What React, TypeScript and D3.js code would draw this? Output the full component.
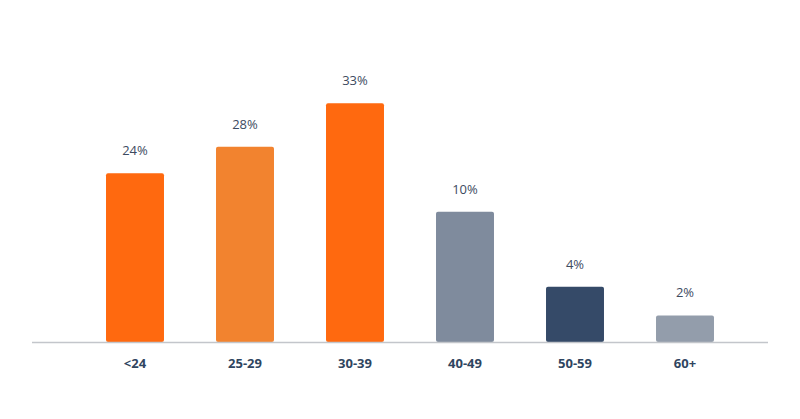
import React from "react";
import * as d3 from "d3";

const categories = ["<24", "25-29", "30-39", "40-49", "50-59", "60+"];
const barValues = [24.1, 27.9, 34.1, 18.6, 7.9, 3.8];
const valueLabels = ["24%", "28%", "33%", "10%", "4%", "2%"];
const barColors = ["#ff690f", "#f2832f", "#ff690f", "#7f8b9d", "#354a68", "#939dab"];

const W = 800;
const H = 419;
const baseline = 342;

export default function App() {
  const x = d3
    .scaleBand<string>()
    .domain(categories)
    .range([80, 740])
    .paddingInner(0.473)
    .paddingOuter(0.2365);
  const y = d3.scaleLinear().domain([0, 40]).range([baseline, 62]);
  const font = "'Open Sans', 'Noto Sans', sans-serif";

  return (
    <svg
      width={W}
      height={H}
      style={{ position: "absolute", left: 0, top: 0, background: "#fff" }}
    >
      {categories.map((c, i) => (
        <g key={c}>
          <rect
            x={x(c)}
            y={y(barValues[i])}
            width={x.bandwidth()}
            height={baseline - y(barValues[i])}
            fill={barColors[i]}
            rx={2}
          />
          <text
            x={(x(c) as number) + x.bandwidth() / 2}
            y={y(barValues[i]) - 18}
            textAnchor="middle"
            fontFamily={font}
            fontSize={13}
            fill="#3d4b5f"
          >
            {valueLabels[i]}
          </text>
          <text
            x={(x(c) as number) + x.bandwidth() / 2}
            y={368}
            textAnchor="middle"
            fontFamily={font}
            fontSize={13}
            fontWeight={700}
            fill="#2f4560"
          >
            {c}
          </text>
        </g>
      ))}
      <line x1={32} x2={768} y1={baseline + 0.5} y2={baseline + 0.5} stroke="#c3c6cb" strokeWidth={1.5} />
    </svg>
  );
}
